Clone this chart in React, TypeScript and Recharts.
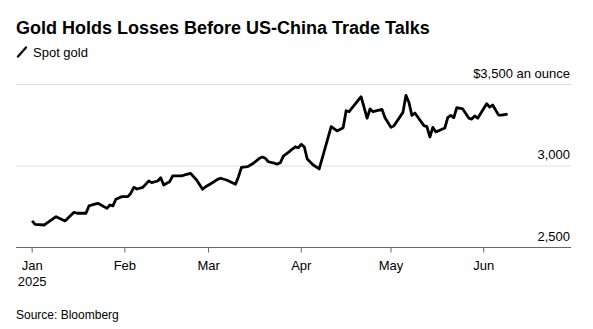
import { LineChart, Line, XAxis, YAxis, CartesianGrid } from 'recharts';

// days since Jan 1, 2025
const days = [
  0, 1, 4, 6, 8, 11, 14, 15, 18, 19, 20, 22, 25, 26, 27, 28, 30,
  32, 33, 34, 35, 37, 39, 40, 42, 43, 44, 45, 46, 47, 49, 50, 51, 53, 54, 55, 57,
  58, 60, 62, 63, 65, 68, 69, 70, 72, 73, 74, 76, 77, 78, 79, 81, 82, 83, 84, 86, 87, 88, 89,
  90, 91, 92, 94, 96, 100, 102, 104, 105, 106, 110, 112, 113, 114, 117, 118,
  120, 121, 124, 125, 126, 127, 128, 131, 132, 133, 134, 135, 138, 139, 140, 141, 142, 144, 146, 147, 148, 149,
  152, 153, 154, 156, 157, 159,
];

// spot gold, $ an ounce
const prices = [
  2663, 2642, 2638, 2663, 2689, 2663, 2716, 2710, 2710, 2755, 2761, 2771, 2740, 2761, 2755, 2796, 2812,
  2812, 2833, 2869, 2859, 2869, 2908, 2898, 2908, 2928, 2883, 2894, 2904, 2939, 2940, 2939, 2945, 2955, 2934, 2914, 2857,
  2873, 2894, 2918, 2925, 2914, 2888, 2934, 2992, 2996, 3006, 3017, 3047, 3055, 3047, 3026, 3017, 3012, 3020, 3061, 3088, 3104, 3118, 3112,
  3133, 3118, 3043, 3006, 2982, 3241, 3215, 3235, 3339, 3333, 3425, 3293, 3350, 3333, 3347, 3296,
  3237, 3247, 3329, 3433, 3390, 3310, 3325, 3248, 3242, 3178, 3237, 3209, 3233, 3298, 3310, 3296, 3358, 3350, 3294, 3288, 3307, 3293,
  3382, 3361, 3374, 3312, 3312, 3319,
];

const monthTicks = [0, 31, 59, 90, 120, 151];
const monthLabels = ['Jan', 'Feb', 'Mar', 'Apr', 'May', 'Jun'];
const priceTicks = [2500, 3000, 3500];

const data = days.map((day, i) => ({ day, price: prices[i] }));

const FONT = '"Liberation Sans", Arial, Helvetica, sans-serif';

const MonthTick = ({ x, y, payload }: any) => {
  const i = monthTicks.indexOf(payload.value);
  return (
    <text x={x} y={y} textAnchor="middle" fontSize={13} fill="#000" fontFamily={FONT}>
      <tspan x={x} dy={17.5}>{monthLabels[i]}</tspan>
      {i === 0 && <tspan x={x} dy={16}>2025</tspan>}
    </text>
  );
};

// labels sit above their gridline, right-aligned inside the plot
const PriceTick = ({ x, y, payload }: any) => (
  <text x={x - 1} y={y - 7} textAnchor="end" fontSize={13} fill="#000" fontFamily={FONT}>
    {payload.value === 3500 ? '$3,500 an ounce' : payload.value.toLocaleString('en-US')}
  </text>
);

export default function App() {
  return (
    <div style={{ position: 'absolute', left: 0, top: 0, width: 593, height: 329, background: '#fff', fontFamily: FONT }}>
      <LineChart
        width={593}
        height={329}
        data={data}
        margin={{ top: 84.5, right: 21, left: 16, bottom: 41.5 }}
      >
        <CartesianGrid vertical={false} stroke="#dedede" />
        <XAxis
          dataKey="day"
          type="number"
          domain={[-5.4, 180.2]}
          ticks={monthTicks}
          interval={0}
          height={40}
          tickSize={5}
          tickMargin={0}
          stroke="#666"
          tick={<MonthTick />}
          allowDataOverflow
        />
        <YAxis
          orientation="right"
          width={1}
          domain={[2500, 3500]}
          ticks={priceTicks}
          interval={0}
          axisLine={false}
          tickLine={false}
          tickSize={0}
          tickMargin={0}
          tick={<PriceTick />}
        />
        <Line
          type="linear"
          dataKey="price"
          stroke="#000"
          strokeWidth={2.8}
          strokeLinejoin="round"
          dot={false}
          isAnimationActive={false}
        />
      </LineChart>
      <svg width={593} height={329} style={{ position: 'absolute', left: 0, top: 0, pointerEvents: 'none' }}>
        <text x={16} y={34} fontSize={18} fontWeight="bold" fill="#000" fontFamily={FONT}>
          Gold Holds Losses Before US-China Trade Talks
        </text>
        <line x1={18} y1={56.5} x2={26} y2={47.5} stroke="#111" strokeWidth={2.4} strokeLinecap="round" />
        <text x={33} y={56.5} fontSize={13} fill="#000" fontFamily={FONT}>Spot gold</text>
        <text x={16} y={319} fontSize={12} fill="#000" fontFamily={FONT}>Source: Bloomberg</text>
      </svg>
    </div>
  );
}
